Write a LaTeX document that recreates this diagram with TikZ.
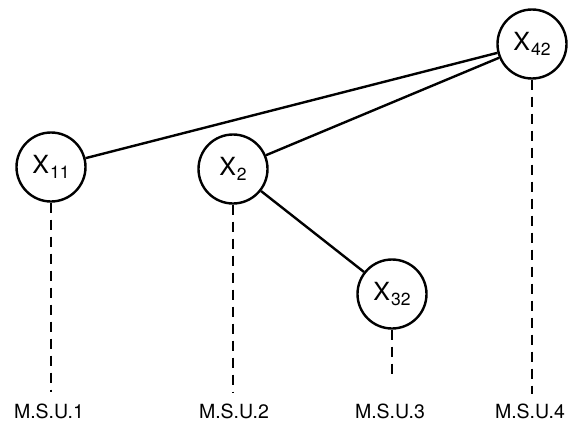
\documentclass[tikz,border=0pt]{standalone}
\usepackage{fontspec}
\setmainfont{TeX Gyre Heros}
\newcommand{\varlab}[1]{\fontsize{25}{27}\selectfont X\kern1pt\raisebox{-5pt}{\fontsize{17.5}{19}\selectfont #1}}
\begin{document}
\begin{tikzpicture}[x=1pt,y=-1pt,
  var/.style={draw,circle,line width=2.4pt,minimum size=69pt,inner sep=0pt},
  lab/.style={font=\fontsize{19.5}{22}\selectfont,anchor=base},
  link/.style={line width=2.4pt},
  drop/.style={line width=2pt,dash pattern=on 10pt off 7pt}]
\useasboundingbox (0,0) rectangle (585,428);
\node[var] (x42) at (532,44) {\varlab{42}};
\node[var] (x11) at (51,167) {\varlab{11}};
\node[var] (x2) at (233,169) {\varlab{2}};
\node[var] (x32) at (392,294) {\varlab{32}};
\node[lab] (m1) at (49,418) {M.S.U.1};
\node[lab] (m2) at (234,418) {M.S.U.2};
\node[lab] (m3) at (390,418) {M.S.U.3};
\node[lab] (m4) at (530,418) {M.S.U.4};
\coordinate (e1) at (51,392);
\coordinate (e2) at (233,392);
\coordinate (e3) at (392,380);
\coordinate (e4) at (532,394);
\draw[link] (x11) -- (x42);
\draw[link] (x2) -- (x42);
\draw[link] (x2) -- (x32);
\draw[drop] (x11.south) -- (e1);
\draw[drop] (x2.south) -- (e2);
\draw[drop] (x32.south) -- (e3);
\draw[drop] (x42.south) -- (e4);
\end{tikzpicture}
\end{document}
